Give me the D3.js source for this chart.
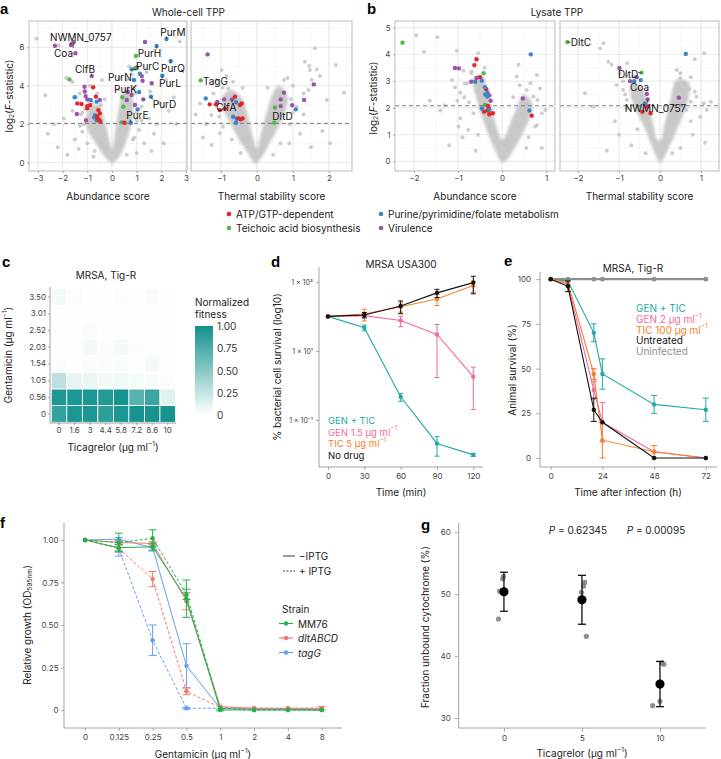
<!DOCTYPE html>
<html>
<head>
<meta charset="utf-8">
<script src="https://cdn.jsdelivr.net/npm/d3@7"></script>
<style>
	body { margin: 0; background: #fff; }
	svg text { font-family: Inter, "Noto Sans", sans-serif; fill: #222; }
	.plab { font-family: "Liberation Sans", Arial, sans-serif; font-weight: bold; font-size: 15px; fill: #000; }
</style>
</head>
<body>
<div id="fig"></div>
<script>

// ---------------- panel a / b : TPP volcano data ----------------
// hit groups: A = ATP/GTP-dependent, T = teichoic acid, P = purine..., V = virulence
const groupKeys = ["A", "T", "P", "V"];
const groupColors = ["#e3262b", "#55b74b", "#3c86c6", "#9e52ac"];
const groupNames = ["ATP/GTP-dependent", "Teichoic acid biosynthesis", "Purine/pyrimidine/folate metabolism", "Virulence"];

const aYTicks = [0, 2, 4, 6];
const bYTicks = [0, 1, 2, 3, 4, 5];
const aAbundTicks = [-3, -2, -1, 0, 1, 2, 3];
const aThermTicks = [-1, 0, 1, 2];
const bAbundTicks = [-2, -1, 0, 1];
const bThermTicks = [-2, -1, 0, 1];

// outline of the dense cloud of non-significant proteins (score, log2 F)
const aAbundCore = [[0.0,-0.05],[0.3,0.3],[0.55,1.0],[0.75,1.8],[0.85,2.6],[0.85,3.3],[0.7,3.9],[0.45,3.7],[0.28,2.8],[0.15,1.8],[0.07,1.0],[0.0,0.7],[-0.1,1.1],[-0.22,1.8],[-0.35,2.4],[-0.5,3.0],[-0.85,2.9],[-1.05,2.3],[-0.95,1.6],[-0.65,1.0],[-0.35,0.4],[-0.12,0.05]];
const aThermCore = [[-0.05,-0.05],[-0.25,0.5],[-0.5,1.2],[-0.72,2.0],[-0.92,2.7],[-0.98,3.3],[-0.75,3.8],[-0.48,3.5],[-0.32,2.9],[-0.2,2.0],[-0.09,1.2],[0.0,0.7],[0.07,1.2],[0.18,2.0],[0.3,2.8],[0.42,3.5],[0.6,4.0],[0.85,3.5],[0.78,2.6],[0.58,1.8],[0.35,1.0],[0.14,0.3]];
const bAbundCore = [[0,-0.05],[-0.18,0.5],[-0.36,1.2],[-0.52,2.0],[-0.62,2.6],[-0.65,3.1],[-0.45,3.2],[-0.33,2.6],[-0.23,1.9],[-0.11,1.2],[0.0,0.8],[0.09,1.0],[0.2,1.5],[0.33,2.0],[0.48,2.5],[0.68,2.2],[0.62,1.6],[0.45,1.0],[0.25,0.4],[0.08,0.0]];
const bThermCore = [[0,-0.05],[-0.18,0.5],[-0.36,1.2],[-0.58,1.9],[-0.72,2.5],[-0.68,2.95],[-0.45,2.75],[-0.28,2.1],[-0.17,1.4],[-0.06,0.8],[0.02,0.8],[0.1,1.3],[0.19,1.9],[0.28,2.5],[0.4,3.05],[0.7,2.95],[0.7,2.4],[0.55,1.7],[0.36,1.0],[0.18,0.4],[0.05,0.0]];

// scattered grey proteins
const aAbundGray = [[-3.05,6.45],[-2.15,6.1],[-2.7,3.5],[-1.95,2.3],[-1.85,4.4],[-1.6,4.2],[-1.45,3.4],[-1.6,2.7],[-1.25,2.5],[-1.1,2.8],[-1.3,3.6],[-0.9,4.0],[-0.6,3.6],[-1.2,1.6],[-1.5,1.2],[-2.2,0.8],[-1.8,0.4],[-2.6,1.5],[-1.0,1.0],[-0.7,0.6],[-1.0,2.1],[-0.65,1.8],[-0.4,4.3],[-0.8,3.1],[-0.45,3.0],[2.75,6.3],[2.2,4.3],[2.3,2.7],[1.9,3.1],[1.55,3.7],[2.5,3.4],[1.2,2.9],[0.9,3.9],[1.0,2.6],[1.2,2.2],[1.5,2.3],[0.6,4.3],[0.8,4.6],[1.7,1.5],[1.3,1.0],[0.9,1.3],[2.1,1.0],[1.0,0.5],[2.6,2.0],[1.4,4.7],[0.7,5.0],[0.3,4.4],[1.8,2.0],[1.1,1.7],[-2.35,2.0],[-1.35,0.7],[1.6,0.6],
	[-1.15,2.0],[-1.2,2.6],[-0.95,3.2],[-0.3,3.3],[0.95,3.0],[1.0,2.2],[0.85,1.2],[0.6,0.4],[-0.75,0.3],[-0.45,0.9],[0.25,3.8],[0.95,3.6],[-1.3,1.9],[-0.55,2.2]];
const aThermGray = [[1.61,5.95],[1.33,5.25],[1.45,5.04],[1.47,4.82],[1.66,4.85],[1.75,4.5],[1.52,4.3],[1.43,3.78],[1.29,3.6],[1.94,3.26],[2.19,5.08],[2.42,3.64],[1.82,1.64],[2.03,1.0],[-0.98,4.82],[-0.84,4.5],[-1.12,4.3],[-1.58,3.08],[-1.26,2.47],[-1.4,2.0],[-1.26,0.91],[-1.03,1.52],[-0.94,1.86],[-0.8,3.86],[-0.66,4.21],[-1.21,3.6],[1.2,1.5],[1.5,0.8],[0.9,1.0],[1.3,2.5],[1.1,2.9],[0.95,3.3],[1.0,4.0],[0.85,4.4],[-1.5,1.3],[-1.7,2.5],
	[-1.05,2.4],[-1.1,3.1],[-0.7,1.2],[-0.45,0.5],[0.65,1.0],[0.9,2.0],[1.0,2.6],[0.3,3.9],[0.75,4.3],[-0.95,3.9],[-0.4,3.9],[0.45,0.4]];
const bAbundGray = [[-1.95,4.72],[-1.47,4.64],[-1.77,4.1],[-1.03,4.14],[-0.54,4.04],[-1.64,2.27],[-1.14,3.04],[-1.07,2.77],[-0.95,2.58],[-0.86,2.4],[-1.02,2.27],[-0.79,2.92],[-0.69,3.36],[-0.88,3.39],[-0.58,2.64],[-0.95,1.61],[-0.65,1.8],[-0.77,1.17],[-0.99,1.3],[0.37,3.61],[0.33,3.17],[0.79,3.23],[0.86,2.73],[0.71,2.42],[0.9,1.8],[0.79,1.36],[0.56,2.67],[0.98,1.92],[0.64,2.92],[-1.2,0.6],[-0.9,0.9],[0.6,0.9],[0.9,0.5],[-0.6,0.4],[-1.4,1.9],[-1.3,2.1],
	[-0.75,2.2],[-0.7,3.3],[-0.4,3.5],[-0.55,1.0],[0.75,1.3],[0.55,0.5],[0.8,2.3],[0.4,2.85],[-0.85,2.9],[0.25,2.4]];
const bThermGray = [[-1.38,4.42],[-1.46,4.23],[-1.26,3.73],[-1.18,3.61],[-0.8,3.67],[-0.98,3.3],[-0.81,3.23],[-0.65,3.17],[-1.06,2.86],[-0.9,2.67],[-1.83,2.55],[-1.63,2.05],[-0.81,2.3],[-0.65,2.42],[1.08,4.04],[0.85,3.82],[0.41,3.42],[0.49,3.11],[0.59,2.92],[0.71,2.7],[0.89,2.42],[0.75,2.23],[1.07,2.17],[1.24,2.23],[0.57,2.42],[0.49,2.73],[1.14,1.92],[0.98,1.67],[0.65,1.92],[-1.0,1.0],[-1.3,0.4],[0.8,1.0],[1.1,0.7],[-0.7,0.6],[0.5,0.5],[-1.1,1.5],
	[-0.8,2.0],[-0.85,2.5],[-0.55,1.2],[-0.35,0.3],[0.75,1.5],[0.85,2.6],[0.5,3.3],[0.3,0.3],[-0.9,3.0],[0.75,3.15]];

// coloured hits [score, log2F, group]
const aAbundHits = [
	[-2.31,6.08,"V"],[-1.66,6.12,"V"],[-1.55,6.26,"V"],[-1.48,5.69,"V"],[-0.82,4.5,"V"],[-1.11,3.95,"V"],[-1.1,3.7,"V"],[-1.07,3.46,"V"],[-1.0,3.29,"V"],[-1.42,2.53,"V"],[-1.05,2.2,"V"],[-0.49,3.26,"V"],[1.34,6.28,"V"],[1.21,4.5,"V"],[1.24,4.26,"V"],[1.61,4.13,"V"],[1.0,4.95,"V"],[0.64,3.67,"V"],[0.8,3.52,"V"],[0.93,3.0,"V"],[0.6,3.26,"V"],[1.27,3.29,"V"],
	[1.81,6.07,"P"],[2.21,6.43,"P"],[2.38,5.29,"P"],[2.04,4.52,"P"],[0.8,4.85,"P"],[1.13,4.62,"P"],[0.89,4.3,"P"],[1.1,3.67,"P"],[1.58,3.43,"P"],[1.04,2.77,"P"],[0.76,2.07,"P"],[-1.51,3.4,"P"],[-0.86,3.26,"P"],[-0.62,3.17,"P"],[-0.69,2.47,"P"],[-0.62,2.2,"P"],[-0.72,2.35,"P"],
	[-1.72,4.33,"T"],[0.97,5.55,"T"],[0.93,4.9,"T"],[0.42,3.4,"T"],[0.46,2.91,"T"],[0.39,2.09,"T"],
	[-0.76,3.92,"A"],[-1.4,3.08,"A"],[-1.23,3.05,"A"],[-1.0,2.94,"A"],[-1.0,2.82,"A"],[-0.89,2.98,"A"],[-0.65,3.43,"A"],[-0.55,2.73,"A"],[-0.49,2.56,"A"],[-0.6,2.4,"A"],[-0.5,2.2,"A"],[-0.47,2.12,"A"],[0.51,2.07,"A"],[-0.58,2.3,"A"]
];
const aThermHits = [
	[-1.37,5.63,"V"],[-1.1,3.15,"V"],[-0.91,3.29,"V"],[-0.69,3.29,"V"],[0.75,3.64,"V"],[0.66,3.29,"V"],[0.66,2.94,"V"],[0.98,2.98,"V"],[1.31,3.26,"V"],[1.58,4.07,"V"],
	[-1.56,4.28,"T"],[0.5,2.87,"T"],[0.48,2.07,"T"],
	[-1.42,3.34,"P"],[-0.58,3.14,"P"],[-0.66,2.39,"P"],[-0.56,2.28,"P"],[-0.58,2.07,"P"],[1.08,2.77,"P"],
	[-1.31,3.03,"A"],[-1.14,3.03,"A"],[-1.03,2.73,"A"],[-0.89,2.8,"A"],[-0.61,3.43,"A"],[-0.47,3.0,"A"],[-0.42,3.08,"A"],[-0.51,2.3,"A"],[-0.45,2.25,"A"],[-0.4,2.3,"A"]
];
const bAbundHits = [
	[-2.26,4.44,"T"],[-0.42,3.3,"T"],[-0.39,2.11,"T"],
	[-0.58,3.82,"A"],[-0.63,3.6,"A"],[-0.5,3.15,"A"],[-0.36,2.7,"A"],[-0.32,2.07,"A"],[-0.3,1.98,"A"],[-0.33,1.9,"A"],[-0.41,1.86,"A"],[-0.29,1.76,"A"],[-0.21,1.8,"A"],[0.67,1.71,"A"],
	[-1.07,3.49,"V"],[-0.98,3.48,"V"],[-0.58,3.12,"V"],[-0.7,2.98,"V"],[-0.29,2.47,"V"],[-0.26,2.27,"V"],[0.47,2.35,"V"],
	[-0.61,2.98,"P"],[-0.46,3.02,"P"],[-0.39,2.77,"P"],[-0.33,2.57,"P"],[-0.38,2.5,"P"],[-0.33,2.42,"P"],[-0.46,1.98,"P"],[-0.29,1.92,"P"],[0.65,4.0,"P"],[0.62,1.9,"P"]
];
const bThermHits = [
	[-2.26,4.46,"T"],[-0.45,3.32,"T"],
	[0.63,4.02,"P"],[-0.63,3.0,"P"],[-0.47,3.04,"P"],[-0.37,2.17,"P"],
	[-0.99,3.49,"V"],[-0.57,3.15,"V"],[-0.73,3.0,"V"],[-0.32,2.52,"V"],[-0.3,2.32,"V"],[0.46,2.38,"V"],
	[-0.31,2.05,"A"],[-0.43,1.86,"A"],[-0.23,1.8,"A"]
];

// labelled proteins [name, point x, point y, label x, label y]
const aAbundLabels = [
	["NWMN_0757",-1.66,6.12,-1.26,6.55],["Coa",-1.55,6.26,-1.96,5.72],["ClfB",-0.82,4.5,-1.09,4.87],
	["PurM",2.21,6.43,2.47,6.8],["PurH",1.81,6.07,1.52,5.7],["PurC",0.8,4.85,1.45,5.03],["PurQ",2.38,5.29,2.47,4.92],
	["PurN",0.89,4.3,0.32,4.45],["PurL",2.04,4.52,2.35,4.14],["PurK",1.1,3.67,0.55,3.83],["PurD",1.58,3.43,2.13,3.05],["PurE",0.76,2.07,1.03,2.47]
];
const aThermLabels = [["TagG",-1.56,4.28,-1.15,4.24],["ClfA",-0.69,3.29,-0.85,2.89],["DltD",0.48,2.07,0.71,2.42]];
const bThermLabels = [["DltC",-2.26,4.46,-1.93,4.47],["DltD",-0.45,3.32,-0.78,3.27],["Coa",-0.32,2.52,-0.5,2.78],["NWMN_0757",-0.3,2.32,-0.11,2.0]];

const aThreshold = 2.04;
const bThreshold = 2.08;

// ---------------- panel c : checkerboard ----------------
const ticConc = ["0", "1.6", "3", "4.4", "5.8", "7.2", "8.6", "10"];
const gentConc = ["0", "0.56", "1.05", "1.54", "2.03", "2.52", "3.01", "3.50"];
// rows follow gentConc (bottom to top), columns follow ticConc
const fitness = [
	[0.85, 0.95, 0.95, 0.88, 0.95, 0.97, 0.97, 0.97],
	[0.95, 0.95, 0.95, 0.92, 0.97, 0.70, 0.82, 0.12],
	[0.28, 0.10, 0.09, 0.05, 0.06, 0.04, 0.03, 0.02],
	[0.02, 0.01, 0.03, 0.03, 0.03, 0.01, 0.05, 0.01],
	[0.01, 0.01, 0.05, 0.02, 0.05, 0.02, 0.01, 0.01],
	[0.01, 0.01, 0.03, 0.01, 0.01, 0.01, 0.01, 0.01],
	[0.01, 0.01, 0.01, 0.01, 0.01, 0.01, 0.01, 0.01],
	[0.05, 0.02, 0.01, 0.01, 0.02, 0.01, 0.03, 0.01]
];
const fitnessTicks = [0, 0.25, 0.5, 0.75, 1];

// ---------------- panel d : time-kill ----------------
const killTimes = [0, 30, 60, 90, 120];
const killSeries = [
	{name: "GEN 1.5 µg ml", sup: "−1", color: "#ef6b9d", mean: [100, 105, 76, 30, 1.8], sd: [0, 10, 26, 28.3, 1.6]},
	{name: "GEN + TIC", color: "#22aaa4", mean: [100, 47, 0.47, 0.021, 0.0098], sd: [0, 9, 0.12, 0.012, 0.001]},
	{name: "TIC 5 µg ml", sup: "−1", color: "#f57f2b", mean: [100, 117, 190, 320, 780], sd: [0, 43, 57, 114, 280]},
	{name: "No drug", color: "#111111", mean: [100, 110, 200, 480, 950], sd: [0, 20, 80, 127, 500]}
];
const killLegendOrder = ["GEN + TIC", "GEN 1.5 µg ml", "TIC 5 µg ml", "No drug"];
const killTicks = [0.1, 10, 1000];
const killTickLabels = ["1 × 10⁻¹", "1 × 10¹", "1 × 10³"];

// ---------------- panel e : animal survival ----------------
const infTimes = [0, 8, 20, 24, 48, 72];
const survSeries = [
	{name: "Uninfected", color: "#8e8e8e", mean: [100, 100, 100, 100, 100, 100], sd: [0, 0, 0, 0, 0, 0]},
	{name: "GEN + TIC", color: "#22aaa4", mean: [100, 99, 70, 47, 30, 27], sd: [0, 0, 5, 8.5, 5, 6.5]},
	{name: "GEN 2 µg ml", sup: "−1", color: "#ef6b9d", mean: [100, 97, 38, 20, 3.5, 0], sd: [0, 0, 5, 11, 0, 0]},
	{name: "TIC 100 µg ml", sup: "−1", color: "#f57f2b", mean: [100, 98, 47, 10, 3.5, 0], sd: [0, 0, 3, 10, 3.5, 0]},
	{name: "Untreated", color: "#111111", mean: [100, 96, 27, 20, 0, 0], sd: [0, 3, 6.5, 0, 0, 0]}
];
const survLegendOrder = ["GEN + TIC", "GEN 2 µg ml", "TIC 100 µg ml", "Untreated", "Uninfected"];
const survYTicks = [0, 25, 50, 75, 100];
const survXTicks = [0, 24, 48, 72];

// ---------------- panel f : growth vs gentamicin ----------------
const gentDoses = ["0", "0.125", "0.25", "0.5", "1", "2", "4", "8"];
const strains = ["MM76", "dltABCD", "tagG"];
const strainColors = ["#1fb24a", "#f4776d", "#659ef5"];
const growthSeries = [
	{strain: "tagG", iptg: false, mean: [1.00, 1.005, 0.955, 0.26, 0.01, 0.005, 0.005, 0.0], sd: [0, 0.01, 0.02, 0.13, 0, 0, 0, 0]},
	{strain: "tagG", iptg: true, mean: [1.00, 0.95, 0.41, 0.01, 0.01, 0.005, 0.005, 0.0], sd: [0, 0.045, 0.09, 0.005, 0, 0, 0, 0]},
	{strain: "dltABCD", iptg: false, mean: [1.00, 0.985, 0.98, 0.64, 0.02, 0.01, 0.01, 0.01], sd: [0, 0.01, 0.01, 0.05, 0, 0, 0, 0]},
	{strain: "dltABCD", iptg: true, mean: [1.00, 0.95, 0.77, 0.11, 0.015, 0.01, 0.01, 0.01], sd: [0, 0.02, 0.045, 0.02, 0, 0, 0, 0.01]},
	{strain: "MM76", iptg: true, mean: [1.00, 0.985, 1.01, 0.68, 0.01, 0.0, 0.0, 0.0], sd: [0, 0.055, 0.05, 0.03, 0, 0, 0, 0]},
	{strain: "MM76", iptg: false, mean: [1.00, 0.955, 0.96, 0.655, 0.0, 0.0, 0.0, 0.0], sd: [0, 0.02, 0.02, 0.11, 0.005, 0, 0, 0]}
];
const growthTicks = [0, 0.25, 0.5, 0.75, 1];

// ---------------- panel g : cytochrome binding ----------------
const ticDoses = [0, 5, 10];
const cytMean = [50.4, 49.1, 35.5];
const cytSd = [3.15, 3.95, 3.65];
const cytRepX = [-0.35, -0.28, -0.08, -0.03, 4.97, 5.1, 5.17, 5.28, 9.53, 10.0, 10.1, 10.25];
const cytRepY = [46.0, 50.5, 52.5, 52.9, 50.3, 51.3, 51.9, 43.2, 32.0, 32.7, 38.9, 38.7];
const cytYTicks = [30, 40, 50, 60];
const pValues = ["0.62345", "0.00095"];

// =====================================================================

const svg = d3.select("#fig").append("svg")
	.attr("width", 721)
	.attr("height", 759);

svg.append("defs").append("filter").attr("id", "soft")
	.attr("x", "-20%").attr("y", "-20%").attr("width", "140%").attr("height", "140%")
	.append("feGaussianBlur").attr("stdDeviation", 1.5);

const axisCol = "#8a8a8a";

// text with super/subscript and italic pieces
function rich(sel, segs, fs) {
	let shift = 0;
	segs.forEach(s => {
		let target = s.sup ? -0.33 * fs : (s.sub ? 0.28 * fs : 0);
		let ts = sel.append("tspan").text(s.t).attr("dy", target - shift);
		if (s.sup || s.sub) ts.style("font-size", (0.66 * fs) + "px");
		if (s.it) ts.style("font-style", "italic");
		shift = target;
	});
	return sel;
}

function addText(x, y, fs, opts = {}) {
	let t = svg.append("text")
		.attr("x", x).attr("y", y)
		.attr("dominant-baseline", "central")
		.attr("text-anchor", opts.anchor || "middle")
		.style("font-size", fs + "px");
	if (opts.rotate) t.attr("transform", `rotate(-90, ${x}, ${y})`);
	if (opts.fill) t.style("fill", opts.fill);
	return t;
}

function letter(t, x, y) {
	svg.append("text").attr("class", "plab").attr("x", x).attr("y", y)
		.attr("dominant-baseline", "central").text(t);
}

function styleAxis(g, fs) {
	g.select(".domain").remove();
	g.selectAll(".tick line").attr("stroke", axisCol).attr("stroke-width", 0.7);
	g.selectAll(".tick text").style("font-size", fs + "px").style("fill", "#444");
}

function axisLine(x1, y1, x2, y2) {
	svg.append("line").attr("x1", x1).attr("y1", y1).attr("x2", x2).attr("y2", y2)
		.attr("stroke", axisCol).attr("stroke-width", 0.8);
}

/*
 * one volcano facet of panel a / b
 */
function volcano(o) {
	let vis = {};
	vis.top = 21; vis.bottom = 171;
	vis.x = d3.scaleLinear().domain(o.xDomain).range([o.left, o.right]);
	vis.y = d3.scaleLinear().domain(o.yDomain).range([vis.bottom, vis.top]);
	vis.g = svg.append("g");

	let clipId = "clip-" + o.id;
	svg.select("defs").append("clipPath").attr("id", clipId).append("rect")
		.attr("x", o.left).attr("y", vis.top).attr("width", o.right - o.left).attr("height", vis.bottom - vis.top);

	// grid: minor then major
	let xMinor = d3.range(Math.ceil(o.xDomain[0] * 2), Math.floor(o.xDomain[1] * 2) + 1).map(k => k / 2);
	let yMinor = d3.range(Math.ceil(o.yDomain[0] / o.yStep), Math.floor(o.yDomain[1] / o.yStep) + 1).map(k => k * o.yStep);
	vis.g.selectAll(".vmin").data(xMinor).join("line")
		.attr("x1", d => vis.x(d)).attr("x2", d => vis.x(d)).attr("y1", vis.top).attr("y2", vis.bottom)
		.attr("stroke", "#f1f1f1").attr("stroke-width", 0.5);
	vis.g.selectAll(".hmin").data(yMinor).join("line")
		.attr("y1", d => vis.y(d)).attr("y2", d => vis.y(d)).attr("x1", o.left).attr("x2", o.right)
		.attr("stroke", "#f1f1f1").attr("stroke-width", 0.5);
	vis.g.selectAll(".vmaj").data(o.xTicks).join("line")
		.attr("x1", d => vis.x(d)).attr("x2", d => vis.x(d)).attr("y1", vis.top).attr("y2", vis.bottom)
		.attr("stroke", "#e2e2e2").attr("stroke-width", 0.7);
	vis.g.selectAll(".hmaj").data(o.yTicks).join("line")
		.attr("y1", d => vis.y(d)).attr("y2", d => vis.y(d)).attr("x1", o.left).attr("x2", o.right)
		.attr("stroke", "#e2e2e2").attr("stroke-width", 0.7);

	let plot = vis.g.append("g").attr("clip-path", `url(#${clipId})`);

	// dense cloud
	plot.append("path")
		.datum(o.core)
		.attr("d", d3.line().x(d => vis.x(d[0])).y(d => vis.y(d[1])).curve(d3.curveCatmullRomClosed))
		.attr("fill", "#c8c8c8")
		.attr("filter", "url(#soft)");

	plot.selectAll(".gp").data(o.gray).join("circle")
		.attr("cx", d => vis.x(d[0])).attr("cy", d => vis.y(d[1])).attr("r", 2)
		.attr("fill", "#c6c6c6").attr("opacity", 0.85);

	// threshold
	plot.append("line")
		.attr("x1", o.left).attr("x2", o.right)
		.attr("y1", vis.y(o.thr)).attr("y2", vis.y(o.thr))
		.attr("stroke", "#6e6e6e").attr("stroke-width", 0.9).attr("stroke-dasharray", "4,3");

	plot.selectAll(".hit").data(o.hits).join("circle")
		.attr("cx", d => vis.x(d[0])).attr("cy", d => vis.y(d[1])).attr("r", 2.2)
		.attr("fill", d => groupColors[groupKeys.indexOf(d[2])]);

	// labels with leader segments
	(o.labels || []).forEach(l => {
		let px = vis.x(l[1]), py = vis.y(l[2]);
		let t = vis.g.append("text")
			.attr("x", vis.x(l[3])).attr("y", vis.y(l[4]))
			.attr("text-anchor", "middle").attr("dominant-baseline", "central")
			.style("font-size", "10px").style("fill", "#111")
			.text(l[0]);
		let bb = t.node().getBBox();
		let nx = Math.max(bb.x, Math.min(px, bb.x + bb.width));
		let ny = Math.max(bb.y + 1.5, Math.min(py, bb.y + bb.height - 1.5));
		if (Math.hypot(nx - px, ny - py) > 2.5) {
			vis.g.append("line").attr("x1", px).attr("y1", py).attr("x2", nx).attr("y2", ny)
				.attr("stroke", "#222").attr("stroke-width", 0.7);
		}
	});

	// border
	vis.g.append("rect")
		.attr("x", o.left).attr("y", vis.top).attr("width", o.right - o.left).attr("height", vis.bottom - vis.top)
		.attr("fill", "none").attr("stroke", "#ababab").attr("stroke-width", 0.8);

	// axes
	let xa = svg.append("g").attr("transform", `translate(0, ${vis.bottom})`)
		.call(d3.axisBottom(vis.x).tickValues(o.xTicks).tickSize(2).tickPadding(2.5).tickFormat(d3.format("d")));
	styleAxis(xa, 8);
	if (o.showY) {
		let ya = svg.append("g").attr("transform", `translate(${o.left}, 0)`)
			.call(d3.axisLeft(vis.y).tickValues(o.yTicks).tickSize(2).tickPadding(2.5).tickFormat(d3.format("d")));
		styleAxis(ya, 8);
	}

	addText((o.left + o.right) / 2, 196, 10).text(o.xTitle);
	return vis;
}

// ---------------- panel a ----------------
letter("a", 0, 8);
addText(188.5, 12, 10).text("Whole-cell TPP");
volcano({id: "aa", left: 29, right: 187, xDomain: [-3.36, 3.04], yDomain: [-0.44, 7.37], yStep: 1,
	xTicks: aAbundTicks, yTicks: aYTicks, showY: true, core: aAbundCore, gray: aAbundGray,
	hits: aAbundHits, labels: aAbundLabels, thr: aThreshold, xTitle: "Abundance score"});
volcano({id: "at", left: 191, right: 352, xDomain: [-1.83, 2.64], yDomain: [-0.44, 7.37], yStep: 1,
	xTicks: aThermTicks, yTicks: aYTicks, showY: false, core: aThermCore, gray: aThermGray,
	hits: aThermHits, labels: aThermLabels, thr: aThreshold, xTitle: "Thermal stability score"});
rich(addText(9, 96, 10, {rotate: true}), [{t: "log"}, {t: "2", sub: true}, {t: "("}, {t: "F", it: true}, {t: "-statistic)"}], 10);

// ---------------- panel b ----------------
letter("b", 367, 8);
addText(557, 12, 10).text("Lysate TPP");
volcano({id: "ba", left: 395, right: 555, xDomain: [-2.43, 1.2], yDomain: [-0.36, 5.25], yStep: 0.5,
	xTicks: bAbundTicks, yTicks: bYTicks, showY: true, core: bAbundCore, gray: bAbundGray,
	hits: bAbundHits, labels: [], thr: bThreshold, xTitle: "Abundance score"});
volcano({id: "bt", left: 560, right: 719, xDomain: [-2.44, 1.44], yDomain: [-0.36, 5.25], yStep: 0.5,
	xTicks: bThermTicks, yTicks: bYTicks, showY: false, core: bThermCore, gray: bThermGray,
	hits: bThermHits, labels: bThermLabels, thr: bThreshold, xTitle: "Thermal stability score"});
rich(addText(373, 98, 10, {rotate: true}), [{t: "log"}, {t: "2", sub: true}, {t: "("}, {t: "F", it: true}, {t: "-statistic)"}], 10);

// legend of a/b
const legPos = [[229, 214], [229, 228], [381, 214], [381, 228]];
groupNames.forEach((n, i) => {
	svg.append("circle").attr("cx", legPos[i][0]).attr("cy", legPos[i][1]).attr("r", 2.3).attr("fill", groupColors[i]);
	addText(legPos[i][0] + 7, legPos[i][1], 10, {anchor: "start"}).text(n);
});

// ---------------- panel c ----------------
letter("c", 2, 261);
addText(106, 275, 10).text("MRSA, Tig-R");
const cx = d3.scaleBand().domain(ticConc).range([51.3, 175.5]);
const cy = d3.scaleBand().domain(gentConc).range([422.3, 288.7]);
const cColor = d3.scaleLinear().domain([0, 1]).range(["#ffffff", "#11918d"]);
const cells = [];
fitness.forEach((row, r) => row.forEach((v, c) => cells.push({g: gentConc[r], t: ticConc[c], v: v})));
svg.append("g").selectAll("rect").data(cells).join("rect")
	.attr("x", d => cx(d.t)).attr("y", d => cy(d.g))
	.attr("width", cx.bandwidth()).attr("height", cy.bandwidth())
	.attr("fill", d => cColor(d.v)).attr("stroke", "#fff").attr("stroke-width", 0.8);
axisLine(50, 287, 50, 423);
axisLine(50, 423, 176, 423);
let cya = svg.append("g").attr("transform", "translate(50,0)")
	.call(d3.axisLeft(cy).tickSize(2).tickPadding(2));
styleAxis(cya, 8);
let cxa = svg.append("g").attr("transform", "translate(0,423)")
	.call(d3.axisBottom(cx).tickSize(2).tickPadding(2.5));
styleAxis(cxa, 8);
rich(addText(113, 447, 10), [{t: "Ticagrelor (µg ml"}, {t: "−1", sup: true}, {t: ")"}], 10);
rich(addText(8, 355, 10, {rotate: true}), [{t: "Gentamicin (µg ml"}, {t: "−1", sup: true}, {t: ")"}], 10);

// colour bar
const grad = svg.select("defs").append("linearGradient").attr("id", "fitgrad")
	.attr("x1", 0).attr("y1", 1).attr("x2", 0).attr("y2", 0);
fitnessTicks.forEach(v => grad.append("stop").attr("offset", v).attr("stop-color", cColor(v)));
const legY = d3.scaleLinear().domain([0, 1]).range([415, 326]);
svg.append("rect").attr("x", 195).attr("y", legY(1)).attr("width", 18).attr("height", legY(0) - legY(1))
	.attr("fill", "url(#fitgrad)");
svg.selectAll(".flab").data(fitnessTicks).join("text")
	.attr("x", 217).attr("y", d => legY(d)).attr("dominant-baseline", "central")
	.style("font-size", "10px").style("fill", "#333")
	.text(d => d === 0 ? "0" : d3.format(".2f")(d));
addText(195, 302, 10, {anchor: "start"}).text("Normalized");
addText(195, 313.5, 10, {anchor: "start"}).text("fitness");

// ---------------- panel d ----------------
letter("d", 271, 261);
addText(401, 264, 10).text("MRSA USA300");
const dx = d3.scaleLinear().domain([-7.4, 128]).range([319, 483]);
const dy = d3.scaleLog().domain([Math.pow(10, -2.36), Math.pow(10, 3.43)]).range([467, 267]);
axisLine(319, 267, 319, 467);
axisLine(319, 467, 483, 467);
let dxa = svg.append("g").attr("transform", "translate(0,467)")
	.call(d3.axisBottom(dx).tickValues(killTimes).tickSize(3).tickPadding(3));
styleAxis(dxa, 8);
let dya = svg.append("g").attr("transform", "translate(319,0)")
	.call(d3.axisLeft(dy).tickValues(killTicks).tickSize(3).tickPadding(3)
		.tickFormat((d, i) => killTickLabels[i]));
styleAxis(dya, 7);
addText(401, 492, 10).text("Time (min)");
addText(277, 367, 10, {rotate: true}).text("% bacterial cell survival (log10)");

function drawSeries(xs, ys, times, s, opts) {
	let g = svg.append("g");
	let pts = times.map((t, i) => ({t: t, m: s.mean[i], sd: s.sd[i]}));
	g.append("path").datum(pts)
		.attr("d", d3.line().x(d => xs(d.t)).y(d => ys(d.m)))
		.attr("fill", "none").attr("stroke", s.color).attr("stroke-width", opts.lw || 1.1)
		.attr("stroke-dasharray", opts.dash || null);
	let eb = pts.filter(d => d.sd > 0);
	let lo = d => ys(Math.max(d.m - d.sd, opts.floor));
	let hi = d => ys(d.m + d.sd);
	g.selectAll(".eb").data(eb).join("line")
		.attr("x1", d => xs(d.t)).attr("x2", d => xs(d.t)).attr("y1", lo).attr("y2", hi)
		.attr("stroke", s.color).attr("stroke-width", 1);
	[lo, hi].forEach(f => {
		g.selectAll(null).data(eb).join("line")
			.attr("x1", d => xs(d.t) - opts.cap).attr("x2", d => xs(d.t) + opts.cap)
			.attr("y1", f).attr("y2", f)
			.attr("stroke", s.color).attr("stroke-width", 1);
	});
	g.selectAll(".pt").data(pts).join("circle")
		.attr("cx", d => xs(d.t)).attr("cy", d => ys(d.m)).attr("r", opts.r || 2.2)
		.attr("fill", s.color);
}
killSeries.forEach(s => drawSeries(dx, dy, killTimes, s, {cap: 2.5, floor: 0.005}));
killLegendOrder.forEach((n, i) => {
	let s = killSeries.find(k => k.name === n);
	let t = addText(328, 420 + i * 11.5, 9.5, {anchor: "start", fill: s.color});
	rich(t, s.sup ? [{t: s.name}, {t: s.sup, sup: true}] : [{t: s.name}], 9.5);
});

// ---------------- panel e ----------------
letter("e", 504, 260);
addText(633, 268, 10).text("MRSA, Tig-R");
const ex = d3.scaleLinear().domain([-4.97, 77.2]).range([540, 717]);
const ey = d3.scaleLinear().domain([-5, 104]).range([467, 272]);
axisLine(540, 272, 540, 467);
axisLine(540, 467, 717, 467);
let exa = svg.append("g").attr("transform", "translate(0,467)")
	.call(d3.axisBottom(ex).tickValues(survXTicks).tickSize(3).tickPadding(3));
styleAxis(exa, 8);
let eya = svg.append("g").attr("transform", "translate(540,0)")
	.call(d3.axisLeft(ey).tickValues(survYTicks).tickSize(4).tickPadding(5));
styleAxis(eya, 8);
addText(628, 492, 10).text("Time after infection (h)");
addText(512, 370, 10, {rotate: true}).text("Animal survival (%)");
survSeries.forEach(s => {
	if (s.name === "Uninfected") drawSeries(ex, ey, infTimes, s, {cap: 3, floor: 0, lw: 2.4, r: 2.4});
	else drawSeries(ex, ey, infTimes, s, {cap: 3, floor: 0});
});
survLegendOrder.forEach((n, i) => {
	let s = survSeries.find(k => k.name === n);
	let t = addText(636, 308 + i * 10.8, 10, {anchor: "start", fill: s.color});
	rich(t, s.sup ? [{t: s.name}, {t: s.sup, sup: true}] : [{t: s.name}], 10);
});

// ---------------- panel f ----------------
letter("f", 0, 522);
const fx = d3.scalePoint().domain(gentDoses).range([85, 321.7]);
const fy = d3.scaleLinear().domain([-0.106, 1.1]).range([728, 523]);
axisLine(64, 523, 64, 728);
axisLine(64, 728, 342, 728);
let fxa = svg.append("g").attr("transform", "translate(0,728)")
	.call(d3.axisBottom(fx).tickSize(3).tickPadding(3));
styleAxis(fxa, 8);
let fya = svg.append("g").attr("transform", "translate(64,0)")
	.call(d3.axisLeft(fy).tickValues(growthTicks).tickSize(3).tickPadding(2.5)
		.tickFormat(d => d === 0 ? "0" : d3.format(".2f")(d)));
styleAxis(fya, 8);
rich(addText(203, 754, 10), [{t: "Gentamicin (µg ml"}, {t: "−1", sup: true}, {t: ")"}], 10);
rich(addText(27, 625, 10, {rotate: true}), [{t: "Relative growth (OD"}, {t: "595nm", sub: true}, {t: ")"}], 10);
growthSeries.forEach(s => {
	let col = strainColors[strains.indexOf(s.strain)];
	drawSeries(fx, fy, gentDoses, {color: col, mean: s.mean, sd: s.sd},
		{cap: 4, floor: -1, lw: 1, r: 2.2, dash: s.iptg ? "3,2" : null});
});
// f legends
svg.append("line").attr("x1", 283).attr("x2", 295).attr("y1", 556).attr("y2", 556).attr("stroke", "#333").attr("stroke-width", 1);
addText(299, 556, 10, {anchor: "start"}).text("−IPTG");
svg.append("line").attr("x1", 283).attr("x2", 295).attr("y1", 571).attr("y2", 571).attr("stroke", "#333").attr("stroke-width", 1).attr("stroke-dasharray", "2,1.5");
addText(299, 571, 10, {anchor: "start"}).text("+ IPTG");
addText(282, 609, 10, {anchor: "start"}).text("Strain");
strains.forEach((n, i) => {
	let yy = 623.5 + i * 14.5;
	svg.append("line").attr("x1", 279).attr("x2", 293).attr("y1", yy).attr("y2", yy).attr("stroke", strainColors[i]).attr("stroke-width", 1.2);
	svg.append("circle").attr("cx", 286).attr("cy", yy).attr("r", 2.2).attr("fill", strainColors[i]);
	let t = addText(298, yy, 10, {anchor: "start"}).text(n);
	if (i > 0) t.style("font-style", "italic");
});

// ---------------- panel g ----------------
letter("g", 421, 524);
const gx = d3.scaleLinear().domain([-2.9, 12.95]).range([458.7, 706]);
const gy = d3.scaleLinear().domain([28.4, 61.5]).range([728, 523]);
axisLine(458.7, 523, 458.7, 728);
axisLine(458.7, 728, 706, 728);
let gxa = svg.append("g").attr("transform", "translate(0,728)")
	.call(d3.axisBottom(gx).tickValues(ticDoses).tickSize(4).tickPadding(3));
styleAxis(gxa, 8);
let gya = svg.append("g").attr("transform", "translate(458.7,0)")
	.call(d3.axisLeft(gy).tickValues(cytYTicks).tickSize(4).tickPadding(4));
styleAxis(gya, 8);
rich(addText(582, 753, 10), [{t: "Ticagrelor (µg ml"}, {t: "−1", sup: true}, {t: ")"}], 10);
addText(425, 627, 10, {rotate: true}).text("Fraction unbound cytochrome (%)");

svg.append("g").selectAll("circle").data(cytRepX).join("circle")
	.attr("cx", d => gx(d)).attr("cy", (d, i) => gy(cytRepY[i])).attr("r", 2.6)
	.attr("fill", "#7d7d7d").attr("opacity", 0.85);
const gEb = svg.append("g");
ticDoses.forEach((d, i) => {
	let x0 = gx(d), lo = gy(cytMean[i] - cytSd[i]), hi = gy(cytMean[i] + cytSd[i]);
	gEb.append("line").attr("x1", x0).attr("x2", x0).attr("y1", lo).attr("y2", hi).attr("stroke", "#111").attr("stroke-width", 1.3);
	[lo, hi].forEach(v => gEb.append("line").attr("x1", x0 - 4).attr("x2", x0 + 4).attr("y1", v).attr("y2", v).attr("stroke", "#111").attr("stroke-width", 1.3));
	gEb.append("circle").attr("cx", x0).attr("cy", gy(cytMean[i])).attr("r", 4.6).attr("fill", "#000");
});
pValues.forEach((p, i) => {
	rich(addText((gx(ticDoses[i]) + gx(ticDoses[i + 1])) / 2 + 35, 529.5, 10), [{t: "P", it: true}, {t: " = " + p}], 10);
});

</script>
</body>
</html>
